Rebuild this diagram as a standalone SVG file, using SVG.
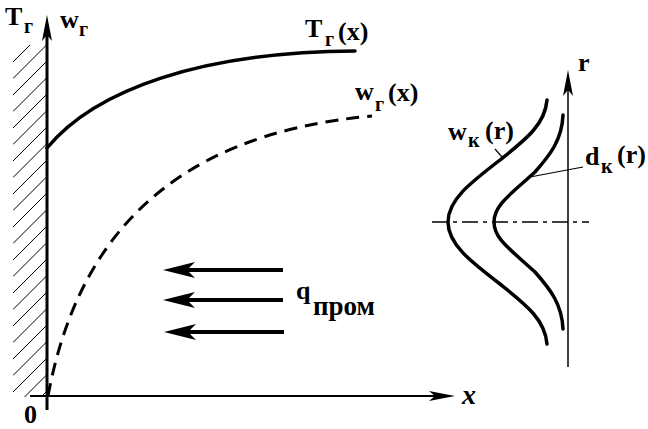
<svg xmlns="http://www.w3.org/2000/svg" width="648" height="429" viewBox="0 0 648 429">
<style>
  text { font-family: "Liberation Serif", "DejaVu Serif", serif; font-weight: bold; fill: #000; }
  .main { font-size: 26px; }
  .sub { font-size: 20px; }
  .curve { fill: none; stroke: #000; stroke-width: 3.5; stroke-linecap: round; stroke-linejoin: round; }
  .dash { fill: none; stroke: #000; stroke-width: 3; stroke-dasharray: 13 8; }
  .hatch { stroke: #000; stroke-width: 1; }
  .thin { stroke: #000; stroke-width: 1.2; fill: none; }
</style>
<defs>
  <marker id="axisHead" markerUnits="userSpaceOnUse" markerWidth="30" markerHeight="12" refX="6" refY="5" orient="auto" overflow="visible">
    <path d="M26,5 L0,0 L6,5 L0,10 Z" fill="#000"/>
  </marker>
  <marker id="qHead" markerUnits="userSpaceOnUse" markerWidth="34" markerHeight="18" refX="8" refY="8" orient="auto" overflow="visible">
    <path d="M32,8 L0,0 L8,8 L0,16 Z" fill="#000"/>
  </marker>
  <clipPath id="wallClip"><rect x="13" y="45" width="34" height="352"/></clipPath>
</defs>

<g id="wall" clip-path="url(#wallClip)">
  <path class="hatch" d="M13,62 L47,28 M13,78.5 L47,44.5 M13,95 L47,61 M13,111.5 L47,77.5 M13,128 L47,94 M13,144.5 L47,110.5 M13,161 L47,127 M13,177.5 L47,143.5 M13,194 L47,160 M13,210.5 L47,176.5 M13,227 L47,193 M13,243.5 L47,209.5 M13,260 L47,226 M13,276.5 L47,242.5 M13,293 L47,259 M13,309.5 L47,275.5 M13,326 L47,292 M13,342.5 L47,308.5 M13,359 L47,325 M13,375.5 L47,341.5 M13,392 L47,358 M13,408.5 L47,374.5 M13,425 L47,391"/>
</g>

<g id="connectors">
  <line id="axis-y" x1="47" y1="410" x2="47" y2="35" stroke="#000" stroke-width="3" marker-end="url(#axisHead)"/>
  <line id="axis-x" x1="30" y1="396" x2="435" y2="396" stroke="#000" stroke-width="2" marker-end="url(#axisHead)"/>
  <line id="axis-r" x1="568" y1="367" x2="568" y2="90" stroke="#000" stroke-width="1.5" marker-end="url(#axisHead)"/>
  <line id="q1" x1="283" y1="270" x2="187" y2="270" stroke="#000" stroke-width="4" marker-end="url(#qHead)"/>
  <line id="q2" x1="283" y1="300" x2="187" y2="300" stroke="#000" stroke-width="4" marker-end="url(#qHead)"/>
  <line id="q3" x1="284" y1="332" x2="188" y2="332" stroke="#000" stroke-width="4" marker-end="url(#qHead)"/>
  <line id="centerline" x1="432" y1="222" x2="589" y2="222" stroke="#000" stroke-width="1.5" stroke-dasharray="16 5 4 5"/>
  <line id="leader-wk" x1="495" y1="149" x2="502" y2="157" class="thin"/>
  <line id="leader-dk" x1="530" y1="177" x2="583" y2="167" class="thin"/>
</g>

<g id="curve-T">
  <path class="curve" d="M47,148 C95,90 200,52 355,51"/>
</g>
<g id="curve-w">
  <path class="dash" d="M48,396 C75,250 160,135 372,116"/>
</g>
<g id="curve-wk">
  <path class="curve" d="M547,100 C545,125 525,140 500,160 C470,183 448,200 448,222 C448,244 470,261 500,284 C525,304 545,319 547,344"/>
</g>
<g id="curve-dk">
  <path class="curve" d="M563,115 C562,140 550,155 535,172 C510,195 494,205 494,222 C494,239 510,249 535,272 C550,289 562,304 563,329"/>
</g>

<g id="labels" font-family="Liberation Serif, DejaVu Serif, serif" font-weight="bold">
  <text class="main" x="5" y="25">T<tspan class="sub" x="24" y="33">г</tspan></text>
  <text class="main" x="60" y="28">w<tspan class="sub" x="79" y="36">г</tspan></text>
  <text class="main" x="305" y="37">T<tspan class="sub" x="325" y="46">г</tspan><tspan x="338" y="40">(x)</tspan></text>
  <text class="main" x="355" y="100">w<tspan class="sub" x="375" y="111">г</tspan><tspan x="388" y="101">(x)</tspan></text>
  <text class="main" x="296" y="299">q<tspan x="313" y="315" style="font-size:27px">пром</tspan></text>
  <text class="main" x="448" y="140">w<tspan class="sub" x="468" y="147">к</tspan><tspan x="485" y="139">(r)</tspan></text>
  <text class="main" x="585" y="165">d<tspan class="sub" x="601" y="173">к</tspan><tspan x="617" y="163">(r)</tspan></text>
  <text class="main" x="578" y="71">r</text>
  <text class="main" x="24" y="423">0</text>
  <text class="main" x="462" y="404" style="font-style:italic;font-size:28px">x</text>
</g>
</svg>
